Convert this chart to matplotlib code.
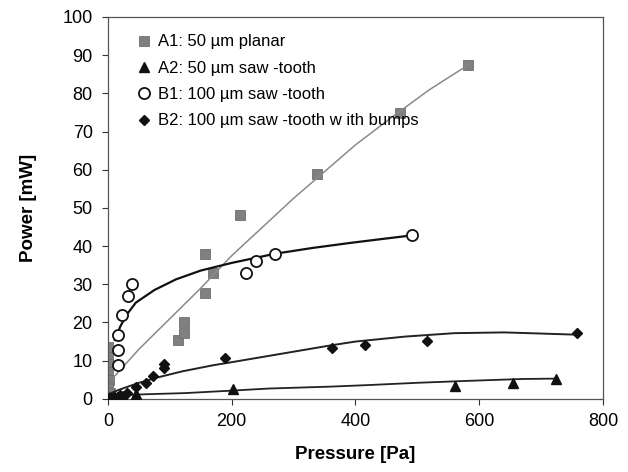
import numpy as np
import matplotlib.pyplot as plt

plt.rcParams['font.family'] = ['Liberation Sans', 'DejaVu Sans']

# measured points: pressure [Pa], power [mW]
a1_p = [0, 0, 0, 0, 2, 0, 3, 1, 113, 123, 123, 157, 157, 170, 213, 338, 472, 582]
a1_w = [13.5, 11, 9, 7, 5, 3, 1.5, 0.5, 15.4, 17.3, 20, 27.7, 38, 33, 48.2, 58.9, 74.9, 87.4]

a2_p = [0, 5, 15, 25, 45, 45, 202, 561, 654, 724]
a2_w = [0.2, 0.3, 0.6, 0.8, 1.2, 0.6, 2.6, 3.4, 4.2, 5.2]

b1_p = [16, 16, 16, 23, 32, 39, 223, 239, 270, 491]
b1_w = [8.9, 12.8, 16.8, 22, 27, 30.2, 33, 36, 38, 42.8]

b2_p = [0, 5, 10, 20, 30, 45, 61, 73, 90, 90, 189, 362, 415, 515, 758]
b2_w = [0, 0.3, 0.5, 1, 1.5, 3.2, 4.2, 6, 8, 9, 10.7, 13.3, 14, 15.2, 17.3]

# trend lines
a1_fit_p = [10, 50, 100, 150, 200, 250, 300, 350, 400, 465, 520, 582]
a1_fit_w = [5.8, 13, 21, 29, 37.5, 45, 52.5, 59.5, 66.5, 74.5, 81, 87.4]

a2_fit_p = [5, 60, 124, 194, 260, 360, 420, 500, 580, 670, 724]
a2_fit_w = [0.8, 1.2, 1.5, 2.1, 2.7, 3.2, 3.6, 4.2, 4.7, 5.2, 5.3]

b1_fit_p = [11, 20, 30, 45, 75, 110, 150, 200, 270, 330, 390, 440, 491]
b1_fit_w = [15.4, 19, 22, 25.2, 28.5, 31.3, 33.6, 35.6, 38, 39.5, 40.8, 41.8, 42.8]

b2_fit_p = [0, 20, 50, 80, 120, 170, 200, 280, 360, 400, 480, 560, 640, 700, 758]
b2_fit_w = [1.2, 2.5, 4.2, 5.6, 7.2, 8.8, 9.6, 11.8, 14, 15, 16.3, 17.2, 17.4, 17.1, 16.8]

labels = ['A1: 50 µm planar', 'A2: 50 µm saw -tooth',
          'B1: 100 µm saw -tooth', 'B2: 100 µm saw -tooth w ith bumps']

fig = plt.figure(figsize=(6.28, 4.72), dpi=100)
ax = fig.add_axes([0.172, 0.155, 0.788, 0.809])

ax.plot(a1_fit_p, a1_fit_w, '-', color='#8a8a8a', lw=1.1, zorder=3)
ax.plot(a2_fit_p, a2_fit_w, '-', color='#222222', lw=1.3, zorder=3)
ax.plot(b1_fit_p, b1_fit_w, '-', color='#111111', lw=1.6, zorder=3)
ax.plot(b2_fit_p, b2_fit_w, '-', color='#222222', lw=1.4, zorder=3)

ax.plot(a1_p, a1_w, 's', ms=7, color='#808080', mec='#6e6e6e', mew=0.6,
        ls='none', label=labels[0], zorder=2)
ax.plot(a2_p, a2_w, '^', ms=7.5, color='#111111', ls='none', label=labels[1], zorder=4)
ax.plot(b1_p, b1_w, 'o', ms=8, mfc='white', mec='#111111', mew=1.3,
        ls='none', label=labels[2], zorder=4)
ax.plot(b2_p, b2_w, 'D', ms=5.5, color='#111111', ls='none', label=labels[3], zorder=4)

ax.set_xlim(0, 800)
ax.set_ylim(0, 100)
ax.set_xticks(np.arange(0, 801, 200))
ax.set_yticks(np.arange(0, 101, 10))
ax.tick_params(labelsize=13, direction='out', length=4, width=0.8, colors='#333333',
               labelcolor='black')
ax.tick_params(axis='y', pad=7)
ax.tick_params(axis='x', pad=6)
for s in ax.spines.values():
    s.set_color('#555555')
    s.set_linewidth(0.9)

ax.set_xlabel('Pressure [Pa]', fontsize=13.5, fontweight='bold', labelpad=12)
ax.set_ylabel('Power [mW]', fontsize=13.5, fontweight='bold', labelpad=18)

ax.legend(loc='upper left', bbox_to_anchor=(0.035, 0.985), frameon=False, fontsize=12,
          handlelength=0.8, handletextpad=0.45, labelspacing=0.68, borderaxespad=0.3)

fig.savefig('out.png', dpi=100)
